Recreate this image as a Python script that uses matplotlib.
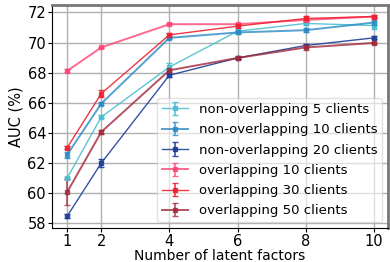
import matplotlib
matplotlib.use("Agg")
import matplotlib.pyplot as plt

x = [1, 2, 4, 6, 8, 10]
labels = ["non-overlapping 5 clients", "non-overlapping 10 clients", "non-overlapping 20 clients",
          "overlapping 10 clients", "overlapping 30 clients", "overlapping 50 clients"]
nov5 = [60.97, 65.04, 68.37, 70.75, 71.27, 71.13]
nov10 = [62.53, 65.93, 70.31, 70.67, 70.82, 71.33]
nov20 = [58.44, 61.97, 67.82, 68.97, 69.80, 70.31]
ov10 = [68.11, 69.67, 71.22, 71.22, 71.50, 71.73]
ov30 = [63.00, 66.60, 70.51, 71.09, 71.60, 71.73]
ov50 = [60.04, 64.04, 68.15, 68.97, 69.67, 69.97]
err_nov5 = [0.05, 0.1, 0.25, 0.1, 0.1, 0.25]
err_nov10 = [0.2, 0.1, 0.1, 0.1, 0.15, 0.15]
err_nov20 = [0.15, 0.25, 0.1, 0.05, 0.1, 0.1]
err_ov10 = [0.1, 0.05, 0.05, 0.05, 0.1, 0.05]
err_ov30 = [0.1, 0.25, 0.1, 0.15, 0.15, 0.1]
err_ov50 = [0.85, 0.1, 0.1, 0.1, 0.2, 0.05]

series = [nov5, nov10, nov20, ov10, ov30, ov50]
errs = [err_nov5, err_nov10, err_nov20, err_ov10, err_ov30, err_ov50]
colors = ["#4bbfd0", "#2a8ac4", "#1f3f99", "#ff4472", "#ee2233", "#a3283a"]
widths = [1.0, 1.4, 1.0, 1.4, 1.0, 1.4]
alphas = [0.9, 0.8, 0.9, 0.8, 0.9, 0.8]

fig = plt.figure(figsize=(3.9, 2.62), dpi=100)
ax = fig.add_axes([0.133, 0.130, 0.862, 0.851])
for y, e, c, lab, lw, a in zip(series, errs, colors, labels, widths, alphas):
    ax.errorbar(x, y, yerr=e, color=c, ecolor=c, elinewidth=1.2, capsize=2.5, capthick=1,
                marker="s", markersize=3, linewidth=lw, label=lab, alpha=a)

ax.set_xlim(0.55, 10.42)
ax.set_ylim(57.65, 72.5)
ax.set_xticks([1, 2, 4, 6, 8, 10])
ax.set_yticks([58, 60, 62, 64, 66, 68, 70, 72])
ax.tick_params(labelsize=10.5, length=3, pad=1.2)
ax.grid(True, color="#b0b0b0", linewidth=1)
ax.set_axisbelow(True)
ax.set_xlabel("Number of latent factors", fontsize=10, labelpad=0)
ax.set_ylabel("AUC (%)", fontsize=10.5, labelpad=3)
for s in ["top", "right"]:
    ax.spines[s].set_color("#777777")
    ax.spines[s].set_linewidth(2)
ax.legend(loc="lower right", fontsize=9.5, borderaxespad=0.45, framealpha=0.6,
          labelspacing=0.55, handlelength=2.0, borderpad=0.35)
fig.savefig("out.png", dpi=100)
